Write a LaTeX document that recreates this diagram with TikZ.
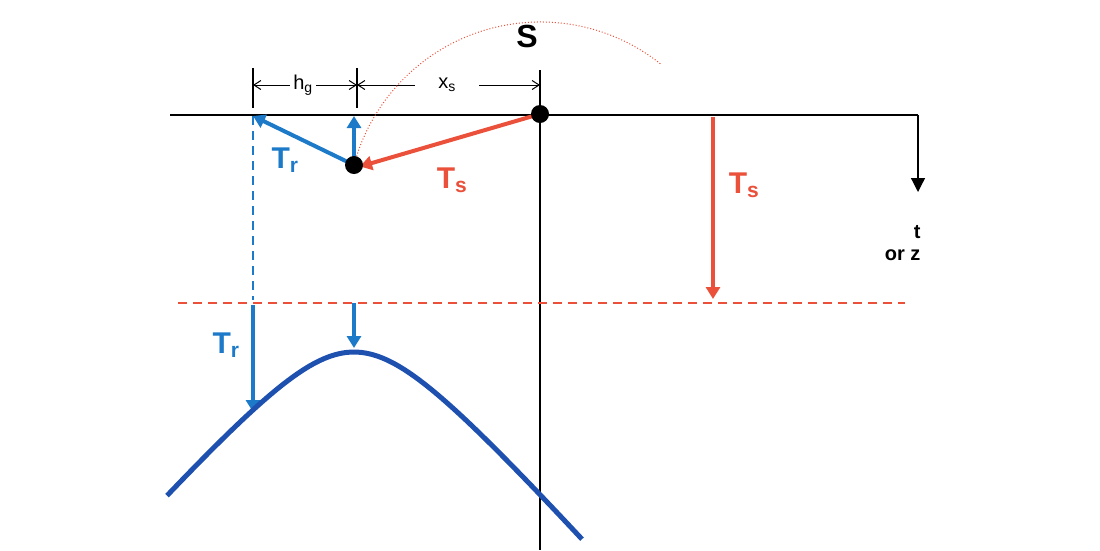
\documentclass[tikz,border=0pt]{standalone}
\usepackage{fontspec}
\setmainfont{Liberation Sans}
\usetikzlibrary{arrows.meta}
\definecolor{cblue}{RGB}{28,122,200}
\definecolor{dblue}{RGB}{30,80,175}
\definecolor{cred}{RGB}{234,80,58}
\begin{document}
\begin{tikzpicture}[x=1pt,y=-1pt,
  barr/.style={cblue,line width=4pt,-{Triangle[length=12pt,width=14pt]}},
  rarr/.style={cred,line width=4pt,-{Triangle[length=12pt,width=14pt]}},
  dimarr/.style={black,line width=1pt,-{Straight Barb[length=7pt,width=9pt]}},
  big/.style={font=\fontsize{30}{30}\selectfont\bfseries},
  lab/.style={font=\fontsize{20}{20}\selectfont}]
\useasboundingbox (0,0) rectangle (1100,550);
% coordinates
\coordinate (S) at (540,114);
\coordinate (P) at (354,165);
\coordinate (G) at (253,116);
\coordinate (Pup) at (354,116);
\coordinate (LL) at (170,115);
\coordinate (RR) at (918,115);
\coordinate (tz) at (918,192);
\coordinate (vtop) at (540,70);
\coordinate (vbot) at (540,550);
% axes
\draw[line width=1.2pt] (LL) -- (RR);
\draw[line width=1.2pt,-{Triangle[length=14pt,width=14pt]}] (RR) -- (tz);
\draw[line width=1.2pt] (vtop) -- (vbot);
\node[font=\fontsize{20}{22}\selectfont\bfseries,align=right,anchor=north east] (tlab) at (924,222) {t\\or z};
\node[font=\fontsize{32}{32}\selectfont\bfseries] (Slab) at (527,36) {S};
% dimension ticks
\coordinate (t1a) at (253,68); \coordinate (t1b) at (253,108);
\coordinate (t2a) at (357,68); \coordinate (t2b) at (357,108);
\draw[line width=1.2pt] (t1a) -- (t1b);
\draw[line width=1.2pt] (t2a) -- (t2b);
\node[lab] (hg) at (303,85) {h\textsubscript{g}};
\node[lab] (xs) at (447,85) {x\textsubscript{s}};
\coordinate (d1) at (253,85); \coordinate (d2) at (357,85); \coordinate (d3) at (540,85);
\draw[dimarr] (hg.west) -- (d1);
\draw[dimarr] (hg.east) -- (d2);
\draw[dimarr] ([xshift=-20pt]xs.west) -- (d2);
\draw[dimarr] ([xshift=20pt]xs.east) -- (d3);
% dotted arc
\draw[cred,line width=1pt,dotted] (P) arc[start angle=195,end angle=309,radius=193];
% dashed lines
\coordinate (hl1) at (178,303); \coordinate (hl2) at (905,303);
\draw[cred,line width=1.5pt,dash pattern=on 9pt off 6pt] (hl1) -- (hl2);
\coordinate (bd) at (253,300);
\draw[cblue,line width=1.5pt,dash pattern=on 9pt off 6pt] (G) -- (bd);
% arrows
\draw[barr] (P) -- (G);
\draw[barr] (P) -- (Pup);
\draw[rarr] (S) -- ([xshift=6pt,yshift=-1.5pt]P);
\coordinate (ts1) at (713,117); \coordinate (ts2) at (713,299);
\draw[rarr] (ts1) -- (ts2);
\fill (S) circle (9pt);
\fill (P) circle (9pt);
\node[big,cblue] (Tr1) at (285,160) {T\textsubscript{r}};
\node[big,cred] (Ts1) at (452,180) {T\textsubscript{s}};
\node[big,cred] (Ts2) at (744,185) {T\textsubscript{s}};
% lower part
\coordinate (a1) at (253,305); \coordinate (a2) at (253,412);
\coordinate (b1) at (354,303); \coordinate (b2) at (354,348);
\draw[barr] (a1) -- (a2);
\draw[barr] (b1) -- (b2);
\node[big,cblue] (Tr2) at (226,345) {T\textsubscript{r}};
\draw[dblue,line width=5pt,domain=-187:228,samples=80] plot ({354+\x},{352-82.5+10*sqrt(68.06+1.268*(\x/10)^2)});
\end{tikzpicture}
\end{document}
